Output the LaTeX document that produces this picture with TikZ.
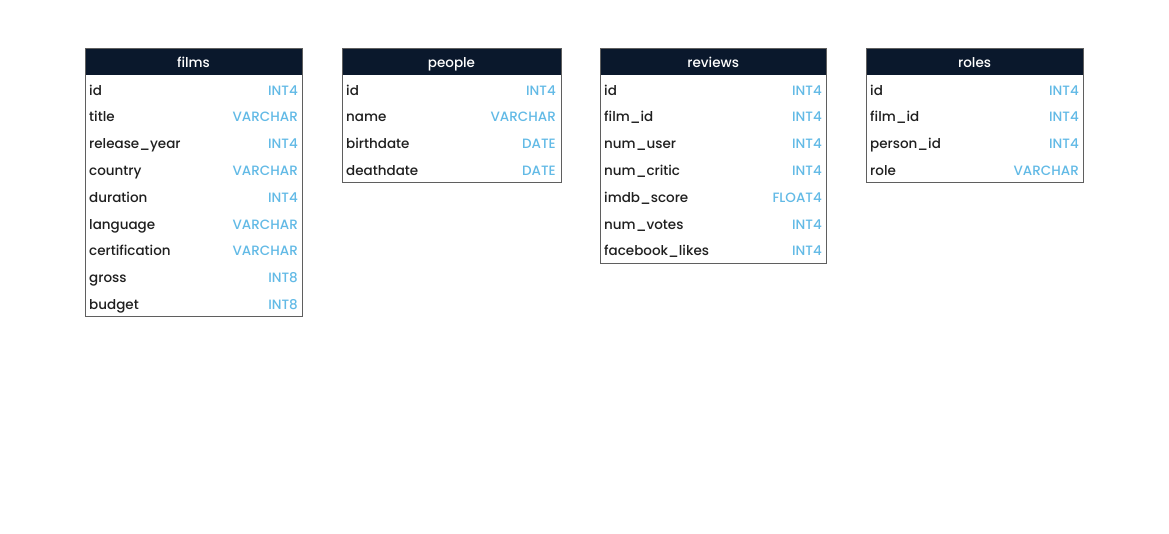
\documentclass[tikz,border=0pt]{standalone}
\usepackage{fontspec}
\setmainfont{Poppins Medium}
\definecolor{headnavy}{RGB}{10,24,44}
\definecolor{typeblue}{RGB}{98,186,230}
\definecolor{tableline}{RGB}{95,95,95}
\begin{document}
\begin{tikzpicture}[x=1pt,y=-1pt]
    \tikzstyle{every node}+=[inner sep=0pt, font=\fontsize{13.5}{16}\selectfont]
    \tikzstyle{head}=[anchor=base, text=white]
    \tikzstyle{col}=[anchor=base west, text=black!88]
    \tikzstyle{kind}=[anchor=base east, text=typeblue]
    \useasboundingbox [fill=white] (0,0) rectangle (1169,533);
    % films
    \fill [headnavy] (85,48) rectangle (302,75);
    \draw [tableline] (85,48) rectangle (302,316);
    \draw (193.5,67) node [head] (films) {films};
    \draw (89,95) node [col] (films-id) {id};
    \draw (298,95) node [kind] (films-id-t) {INT4};
    \draw (89,121.8) node [col] (films-title) {title};
    \draw (298,121.8) node [kind] (films-title-t) {VARCHAR};
    \draw (89,148.6) node [col] (films-year) {release\_year};
    \draw (298,148.6) node [kind] (films-year-t) {INT4};
    \draw (89,175.4) node [col] (films-country) {country};
    \draw (298,175.4) node [kind] (films-country-t) {VARCHAR};
    \draw (89,202.2) node [col] (films-duration) {duration};
    \draw (298,202.2) node [kind] (films-duration-t) {INT4};
    \draw (89,229) node [col] (films-language) {language};
    \draw (298,229) node [kind] (films-language-t) {VARCHAR};
    \draw (89,255.8) node [col] (films-cert) {certification};
    \draw (298,255.8) node [kind] (films-cert-t) {VARCHAR};
    \draw (89,282.6) node [col] (films-gross) {gross};
    \draw (298,282.6) node [kind] (films-gross-t) {INT8};
    \draw (89,309.4) node [col] (films-budget) {budget};
    \draw (298,309.4) node [kind] (films-budget-t) {INT8};
    % people
    \fill [headnavy] (342,48) rectangle (561,75);
    \draw [tableline] (342,48) rectangle (561,182.5);
    \draw (451.5,67) node [head] (people) {people};
    \draw (346,95) node [col] (people-id) {id};
    \draw (556,95) node [kind] (people-id-t) {INT4};
    \draw (346,121.8) node [col] (people-name) {name};
    \draw (556,121.8) node [kind] (people-name-t) {VARCHAR};
    \draw (346,148.6) node [col] (people-birth) {birthdate};
    \draw (556,148.6) node [kind] (people-birth-t) {DATE};
    \draw (346,175.4) node [col] (people-death) {deathdate};
    \draw (556,175.4) node [kind] (people-death-t) {DATE};
    % reviews
    \fill [headnavy] (600,48) rectangle (826.5,75);
    \draw [tableline] (600,48) rectangle (826.5,263);
    \draw (713.2,67) node [head] (reviews) {reviews};
    \draw (604,95) node [col] (reviews-id) {id};
    \draw (822,95) node [kind] (reviews-id-t) {INT4};
    \draw (604,121.8) node [col] (reviews-film) {film\_id};
    \draw (822,121.8) node [kind] (reviews-film-t) {INT4};
    \draw (604,148.6) node [col] (reviews-user) {num\_user};
    \draw (822,148.6) node [kind] (reviews-user-t) {INT4};
    \draw (604,175.4) node [col] (reviews-critic) {num\_critic};
    \draw (822,175.4) node [kind] (reviews-critic-t) {INT4};
    \draw (604,202.2) node [col] (reviews-score) {imdb\_score};
    \draw (822,202.2) node [kind] (reviews-score-t) {FLOAT4};
    \draw (604,229) node [col] (reviews-votes) {num\_votes};
    \draw (822,229) node [kind] (reviews-votes-t) {INT4};
    \draw (604,255.8) node [col] (reviews-likes) {facebook\_likes};
    \draw (822,255.8) node [kind] (reviews-likes-t) {INT4};
    % roles
    \fill [headnavy] (866,48) rectangle (1083.3,75);
    \draw [tableline] (866,48) rectangle (1083.3,182.5);
    \draw (974.6,67) node [head] (roles) {roles};
    \draw (870,95) node [col] (roles-id) {id};
    \draw (1079,95) node [kind] (roles-id-t) {INT4};
    \draw (870,121.8) node [col] (roles-film) {film\_id};
    \draw (1079,121.8) node [kind] (roles-film-t) {INT4};
    \draw (870,148.6) node [col] (roles-person) {person\_id};
    \draw (1079,148.6) node [kind] (roles-person-t) {INT4};
    \draw (870,175.4) node [col] (roles-role) {role};
    \draw (1079,175.4) node [kind] (roles-role-t) {VARCHAR};
\end{tikzpicture}
\end{document}
